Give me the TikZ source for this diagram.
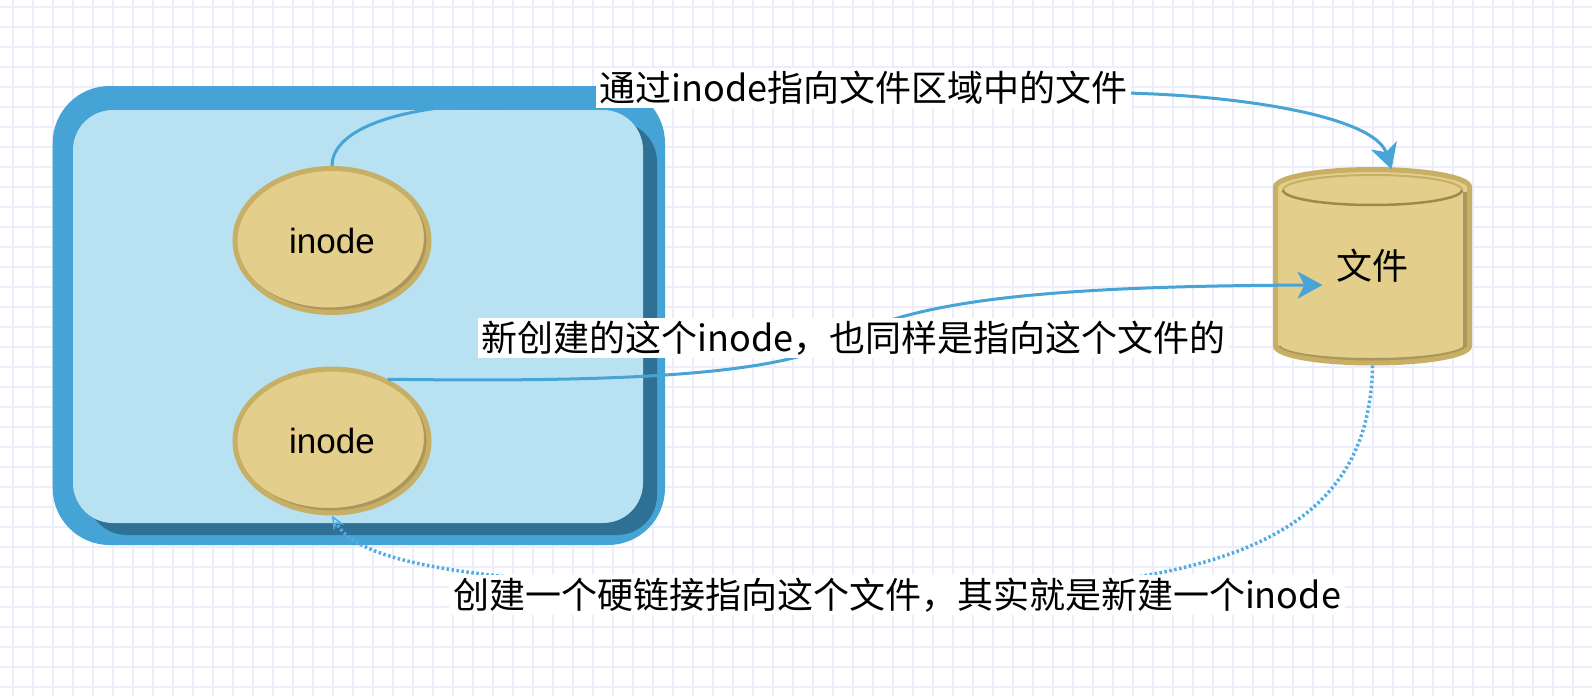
\documentclass[tikz,border=0pt]{standalone}
\usepackage{fontspec}
\setmainfont{Noto Sans CJK SC}
\newfontfamily\latfont{Liberation Sans}
\usetikzlibrary{arrows.meta,shapes.geometric,calc}
\definecolor{gridc}{HTML}{ECECFB}
\definecolor{boxblue}{HTML}{45A3D5}
\definecolor{boxlight}{HTML}{B8E2F1}
\definecolor{boxdark}{HTML}{2F7095}
\definecolor{tanfill}{HTML}{E3CE8B}
\definecolor{tanline}{HTML}{C8AF66}
\definecolor{tandark}{HTML}{A08850}
\definecolor{linkblue}{HTML}{48A4D6}
\definecolor{dotblue}{HTML}{52ACE0}
\tikzset{
  inodebox/.style={ellipse, draw=tanline, line width=5pt, fill=tanfill,
    minimum width=194pt, minimum height=144pt, inner sep=0pt,
    font=\latfont\fontsize{35}{40}\selectfont,
    path picture={\draw[tandark, opacity=0.8, line width=4pt]
      ([shift={(-3pt,3pt)}]path picture bounding box.center) ellipse [x radius=97pt, y radius=72pt];}},
  link/.style={draw=linkblue, line width=3pt, -{Stealth[length=25pt,width=27pt,inset=7pt]}},
  dotlink/.style={draw=dotblue, line width=3.5pt, dash pattern=on 2.5pt off 2.5pt,
    -{Stealth[open,length=14pt,width=12pt,line width=1.5pt]}},
  lbl/.style={fill=white, inner xsep=4pt, inner ysep=3pt, font=\fontsize{36}{40}\selectfont},
}
\begin{document}
\begin{tikzpicture}[x=1pt,y=-1pt]
\useasboundingbox (0,0) rectangle (1592,696);
\fill[white] (0,0) rectangle (1592,696);
\foreach \x in {13,33,...,1593} \draw[gridc,line width=1.5pt] (\x,0) -- (\x,696);
\foreach \y in {7,27,...,696} \draw[gridc,line width=1.5pt] (0,\y) -- (1592,\y);

% container
\fill[boxblue, rounded corners=57pt] (52.7,86) rectangle (665,545);
\fill[boxdark, rounded corners=40pt] (87,122) rectangle (657,535);
\fill[boxlight, rounded corners=40pt] (73,110) rectangle (643,523);

% inode nodes
\node[inodebox] (i1) at (332,240.5) {inode};
\node[inodebox] (i2) at (332,441) {inode};

% cylinder
\path[fill=tanfill] (1275.5,187) -- (1275.5,346)
  arc[start angle=180,end angle=360,x radius=97pt,y radius=17pt]
  -- (1469.5,187) arc[start angle=0,end angle=180,x radius=97pt,y radius=17.5pt] -- cycle;
\draw[tandark, opacity=0.8, line width=4pt] (1465,192) -- (1465,346)
  arc[start angle=0,end angle=-180,x radius=93pt,y radius=14pt];
\draw[tanline, line width=5pt] (1275.5,187) -- (1275.5,346)
  arc[start angle=180,end angle=360,x radius=97pt,y radius=17pt]
  -- (1469.5,187) arc[start angle=0,end angle=180,x radius=97pt,y radius=17.5pt] -- cycle;
\draw[tanline, line width=2pt] (1283,190) arc[start angle=180,end angle=0,x radius=89.5pt,y radius=15pt];
\draw[tandark, line width=2.5pt] (1283,190) arc[start angle=180,end angle=360,x radius=89.5pt,y radius=15pt];
\node[minimum width=199pt, minimum height=199pt, inner sep=0pt,
  font=\fontsize{36}{40}\selectfont] (cyl) at (1372.5,266) {文件};

\coordinate (t1) at ($(cyl.north)+(19,3)$);
\coordinate (t2) at ($(cyl.center)+(-50,19)$);

% connectors
\draw[link] (i1.north) .. controls (332,135) and (380,110) .. (480,104)
  .. controls (700,98) and (950,90) .. (1126,93)
  .. controls (1250,96) and (1375,118) .. (t1);
\draw[link] (i2.48) .. controls (650,383) and (790,372) .. (846,338)
  .. controls (920,300) and (1050,286) .. (t2);
\draw[dotlink] (cyl.south) .. controls (1370,520) and (1250,570) .. (1050,588)
  -- (700,590) .. controls (480,580) and (360,565) .. (i2.south);

% labels
\node[lbl] (l1) at (863.5,88) {通过inode指向文件区域中的文件};
\node[lbl] (l2) at (853.5,338) {新创建的这个inode，也同样是指向这个文件的};
\node[lbl] (l3) at (897,595) {创建一个硬链接指向这个文件，其实就是新建一个inode};
\end{tikzpicture}
\end{document}
